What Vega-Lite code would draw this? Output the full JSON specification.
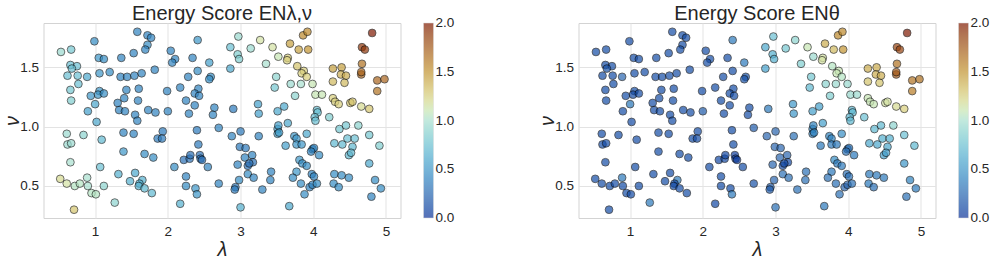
{
"$schema": "https://vega.github.io/schema/vega-lite/v6.json",
"background": "white",
"padding": {"left": 1.5, "top": 3, "right": 0, "bottom": 0},
"bounds": "flush",
"spacing": 178,
"config": {
  "font": "Liberation Sans",
  "view": {"stroke": "#d3d3d3", "strokeWidth": 1},
  "axis": {"labelFont": "Liberation Sans", "labelFontSize": 13.5, "labelColor": "#262626", "titleFont": "Liberation Sans", "titleFontSize": 20, "titleFontWeight": "normal", "titleFontStyle": "italic", "titleColor": "#262626", "grid": true, "gridColor": "#e3e3e3", "domain": false, "ticks": false},
  "axisX": {"labelPadding": 6, "titlePadding": 2},
  "axisY": {"labelPadding": 5, "titlePadding": -3},
  "legend": {"labelFont": "Liberation Sans", "labelFontSize": 13.5, "labelColor": "#262626", "gradientLength": 195, "gradientThickness": 10, "offset": 23, "labelOffset": 3, "gradientStrokeColor": "#cccccc", "gradientStrokeWidth": 0.5, "padding": 0, "labelOverlap": false, "gradientOpacity": 0.7},
  "title": {"font": "Liberation Sans", "fontSize": 20, "fontWeight": "normal", "color": "#262626", "anchor": "middle", "frame": "group", "offset": -1}
},
"datasets": {"pts": [
{"l":0.53,"n":1.63,"a":0.95,"b":0.12},{"l":0.67,"n":1.65,"a":0.8,"b":0.12},{"l":0.99,"n":1.72,"a":0.45,"b":0.12},{"l":0.66,"n":1.52,"a":0.75,"b":0.12},{"l":0.75,"n":1.51,"a":0.75,"b":0.12},{"l":0.68,"n":1.49,"a":0.75,"b":0.15},{"l":0.62,"n":1.43,"a":0.75,"b":0.12},{"l":0.76,"n":1.43,"a":0.75,"b":0.12},{"l":0.89,"n":1.42,"a":0.6,"b":0.25},{"l":0.77,"n":1.36,"a":0.75,"b":0.12},
{"l":0.66,"n":1.31,"a":0.8,"b":0.12},{"l":0.67,"n":1.22,"a":0.85,"b":0.12},{"l":1.06,"n":1.45,"a":0.5,"b":0.12},{"l":1.05,"n":1.58,"a":0.5,"b":0.12},{"l":1.12,"n":1.57,"a":0.45,"b":0.12},{"l":1.06,"n":1.30,"a":0.5,"b":0.12},{"l":1.04,"n":1.27,"a":0.5,"b":0.12},{"l":1.12,"n":1.28,"a":0.45,"b":0.12},{"l":0.94,"n":1.26,"a":0.5,"b":0.12},{"l":1.00,"n":1.19,"a":0.6,"b":0.35},
{"l":0.90,"n":1.13,"a":0.55,"b":0.12},{"l":1.02,"n":1.04,"a":0.6,"b":0.12},{"l":0.61,"n":0.94,"a":0.95,"b":0.12},{"l":0.84,"n":0.93,"a":0.9,"b":0.12},{"l":0.62,"n":0.85,"a":0.95,"b":0.12},{"l":0.67,"n":0.86,"a":0.95,"b":0.12},{"l":1.09,"n":0.89,"a":0.7,"b":0.12},{"l":0.66,"n":0.70,"a":1.0,"b":0.12},{"l":1.07,"n":0.66,"a":0.75,"b":0.12},{"l":0.52,"n":0.56,"a":1.2,"b":0.12},
{"l":0.61,"n":0.52,"a":1.15,"b":0.12},{"l":0.72,"n":0.50,"a":1.05,"b":0.12},{"l":0.79,"n":0.52,"a":1.05,"b":0.12},{"l":0.89,"n":0.57,"a":1.0,"b":0.35},{"l":0.90,"n":0.50,"a":1.0,"b":0.12},{"l":0.95,"n":0.44,"a":1.05,"b":0.12},{"l":1.01,"n":0.43,"a":1.05,"b":0.12},{"l":1.12,"n":0.50,"a":0.9,"b":0.12},{"l":0.71,"n":0.30,"a":1.3,"b":0.12},{"l":1.27,"n":0.36,"a":0.9,"b":0.35},
{"l":1.58,"n":1.80,"a":0.4,"b":0.12},{"l":1.72,"n":1.77,"a":0.4,"b":0.12},{"l":1.77,"n":1.75,"a":0.4,"b":0.12},{"l":1.72,"n":1.69,"a":0.45,"b":0.12},{"l":1.69,"n":1.65,"a":0.4,"b":0.12},{"l":1.53,"n":1.62,"a":0.4,"b":0.12},{"l":1.36,"n":1.58,"a":0.4,"b":0.12},{"l":2.04,"n":1.64,"a":0.4,"b":0.12},{"l":2.10,"n":1.57,"a":0.4,"b":0.12},{"l":2.06,"n":1.54,"a":0.4,"b":0.12},
{"l":2.34,"n":1.58,"a":0.4,"b":0.12},{"l":2.41,"n":1.73,"a":0.5,"b":0.35},{"l":2.57,"n":1.54,"a":0.55,"b":0.35},{"l":1.20,"n":1.46,"a":0.45,"b":0.12},{"l":1.35,"n":1.42,"a":0.4,"b":0.12},{"l":1.44,"n":1.42,"a":0.4,"b":0.12},{"l":1.54,"n":1.43,"a":0.4,"b":0.12},{"l":1.64,"n":1.45,"a":0.4,"b":0.12},{"l":1.82,"n":1.48,"a":0.4,"b":0.12},{"l":2.28,"n":1.42,"a":0.4,"b":0.12},
{"l":2.41,"n":1.47,"a":0.45,"b":0.12},{"l":2.59,"n":1.42,"a":0.45,"b":0.15},{"l":2.57,"n":1.40,"a":0.45,"b":0.15},{"l":1.43,"n":1.31,"a":0.4,"b":0.12},{"l":1.60,"n":1.32,"a":0.4,"b":0.12},{"l":1.40,"n":1.24,"a":0.4,"b":0.12},{"l":1.31,"n":1.20,"a":0.4,"b":0.12},{"l":1.59,"n":1.22,"a":0.4,"b":0.12},{"l":1.33,"n":1.14,"a":0.4,"b":0.12},{"l":1.41,"n":1.13,"a":0.4,"b":0.12},
{"l":1.55,"n":1.10,"a":0.4,"b":0.12},{"l":1.58,"n":1.05,"a":0.4,"b":0.12},{"l":1.73,"n":1.14,"a":0.4,"b":0.12},{"l":1.83,"n":1.12,"a":0.4,"b":0.12},{"l":1.99,"n":1.30,"a":0.4,"b":0.12},{"l":2.17,"n":1.33,"a":0.4,"b":0.12},{"l":2.42,"n":1.32,"a":0.4,"b":0.12},{"l":2.37,"n":1.28,"a":0.4,"b":0.12},{"l":2.43,"n":1.26,"a":0.4,"b":0.12},{"l":2.25,"n":1.22,"a":0.4,"b":0.12},
{"l":2.37,"n":1.18,"a":0.4,"b":0.12},{"l":2.64,"n":1.16,"a":0.4,"b":0.12},{"l":2.62,"n":1.10,"a":0.4,"b":0.12},{"l":2.29,"n":1.11,"a":0.4,"b":0.12},{"l":2.00,"n":1.13,"a":0.4,"b":0.2},{"l":1.39,"n":0.95,"a":0.4,"b":0.12},{"l":1.53,"n":0.94,"a":0.4,"b":0.12},{"l":1.93,"n":0.96,"a":0.35,"b":0.12},{"l":1.86,"n":0.90,"a":0.35,"b":0.12},{"l":1.92,"n":0.90,"a":0.35,"b":0.12},
{"l":1.39,"n":0.79,"a":0.5,"b":0.12},{"l":1.68,"n":0.77,"a":0.45,"b":0.12},{"l":1.80,"n":0.74,"a":0.45,"b":0.12},{"l":1.32,"n":0.60,"a":0.65,"b":0.12},{"l":1.55,"n":0.61,"a":0.6,"b":0.12},{"l":1.48,"n":0.54,"a":0.65,"b":0.12},{"l":1.65,"n":0.55,"a":0.65,"b":0.35},{"l":1.61,"n":0.52,"a":0.65,"b":0.12},{"l":1.60,"n":0.50,"a":0.65,"b":0.12},{"l":1.68,"n":0.48,"a":0.7,"b":0.12},
{"l":1.78,"n":0.44,"a":0.7,"b":0.12},{"l":2.17,"n":0.35,"a":0.65,"b":0.1},{"l":2.09,"n":0.66,"a":0.45,"b":0.12},{"l":2.25,"n":0.58,"a":0.4,"b":0.12},{"l":2.25,"n":0.50,"a":0.45,"b":0.12},{"l":2.38,"n":0.48,"a":0.5,"b":0.12},{"l":2.40,"n":0.43,"a":0.5,"b":0.35},{"l":2.22,"n":0.72,"a":0.3,"b":0.1},{"l":2.30,"n":0.73,"a":0.3,"b":0.1},{"l":2.31,"n":0.76,"a":0.3,"b":0.1},
{"l":2.44,"n":0.76,"a":0.3,"b":0.05},{"l":2.45,"n":0.73,"a":0.3,"b":0.05},{"l":2.47,"n":0.72,"a":0.3,"b":0.05},{"l":2.55,"n":0.66,"a":0.4,"b":0.12},{"l":2.42,"n":0.85,"a":0.35,"b":0.12},{"l":2.40,"n":0.97,"a":0.35,"b":0.12},{"l":2.70,"n":0.52,"a":0.4,"b":0.15},{"l":2.70,"n":0.99,"a":0.4,"b":0.2},
{"l":2.97,"n":1.76,"a":0.95,"b":0.75},{"l":2.86,"n":1.67,"a":0.75,"b":0.6},{"l":2.96,"n":1.61,"a":0.85,"b":0.65},{"l":2.98,"n":1.57,"a":0.85,"b":0.65},{"l":2.86,"n":1.49,"a":0.6,"b":0.55},{"l":3.14,"n":1.66,"a":0.95,"b":0.8},{"l":3.27,"n":1.73,"a":1.15,"b":0.9},{"l":3.44,"n":1.67,"a":1.15,"b":1.1},{"l":3.52,"n":1.59,"a":1.1,"b":0.95},{"l":3.35,"n":1.53,"a":1.0,"b":0.85},
{"l":3.65,"n":1.58,"a":1.25,"b":1.15},{"l":3.64,"n":1.56,"a":1.25,"b":1.15},{"l":3.68,"n":1.70,"a":1.45,"b":1.4},{"l":3.80,"n":1.65,"a":1.45,"b":1.35},{"l":3.86,"n":1.77,"a":1.55,"b":1.55},{"l":3.92,"n":1.80,"a":1.55,"b":1.55},{"l":3.93,"n":1.65,"a":1.5,"b":1.5},{"l":3.78,"n":1.51,"a":1.3,"b":1.05},{"l":3.87,"n":1.47,"a":1.25,"b":1.1},{"l":3.84,"n":1.45,"a":1.25,"b":1.1},
{"l":3.91,"n":1.42,"a":1.25,"b":1.05},{"l":3.49,"n":1.42,"a":0.9,"b":0.8},{"l":3.47,"n":1.33,"a":0.8,"b":0.7},{"l":3.69,"n":1.36,"a":0.95,"b":0.9},{"l":3.83,"n":1.36,"a":1.0,"b":0.95},{"l":3.99,"n":1.36,"a":1.1,"b":0.95},{"l":3.75,"n":1.26,"a":0.9,"b":0.85},{"l":4.03,"n":1.27,"a":1.1,"b":0.95},{"l":4.12,"n":1.27,"a":1.1,"b":0.95},{"l":4.27,"n":1.49,"a":1.45,"b":1.4},
{"l":4.39,"n":1.50,"a":1.45,"b":1.4},{"l":4.38,"n":1.44,"a":1.4,"b":1.4},{"l":4.45,"n":1.43,"a":1.4,"b":1.4},{"l":4.27,"n":1.38,"a":1.35,"b":1.3},{"l":4.43,"n":1.37,"a":1.35,"b":1.3},{"l":4.27,"n":1.24,"a":1.25,"b":1.1},{"l":4.30,"n":1.21,"a":1.25,"b":1.1},{"l":4.35,"n":1.19,"a":1.25,"b":1.1},{"l":4.51,"n":1.20,"a":1.3,"b":1.15},{"l":4.54,"n":1.21,"a":1.3,"b":1.15},
{"l":4.66,"n":1.17,"a":1.2,"b":1.2},{"l":4.77,"n":1.15,"a":1.3,"b":1.25},{"l":4.67,"n":1.53,"a":1.65,"b":1.65},{"l":4.66,"n":1.44,"a":1.7,"b":1.75},{"l":4.66,"n":1.46,"a":1.7,"b":1.75},{"l":4.67,"n":1.67,"a":1.9,"b":1.85},{"l":4.71,"n":1.65,"a":1.9,"b":1.85},{"l":4.81,"n":1.79,"a":2.0,"b":2.0},{"l":4.88,"n":1.39,"a":1.7,"b":1.65},{"l":4.98,"n":1.40,"a":1.7,"b":1.65},
{"l":4.88,"n":1.30,"a":1.65,"b":1.6},{"l":2.90,"n":1.15,"a":0.35,"b":0.35},{"l":3.24,"n":1.19,"a":0.55,"b":0.5},{"l":3.25,"n":1.11,"a":0.55,"b":0.5},{"l":3.51,"n":1.13,"a":0.6,"b":0.55},{"l":3.60,"n":1.17,"a":0.6,"b":0.55},{"l":4.05,"n":1.14,"a":0.75,"b":0.7},{"l":4.06,"n":1.12,"a":0.75,"b":0.7},{"l":4.22,"n":1.08,"a":0.85,"b":0.75},{"l":3.65,"n":1.03,"a":0.6,"b":0.55},
{"l":3.51,"n":0.98,"a":0.55,"b":0.4},{"l":3.52,"n":1.01,"a":0.55,"b":0.4},{"l":3.51,"n":0.94,"a":0.55,"b":0.4},{"l":3.53,"n":0.95,"a":0.55,"b":0.4},{"l":4.02,"n":1.08,"a":0.75,"b":0.7},{"l":4.03,"n":1.05,"a":0.75,"b":0.7},{"l":3.00,"n":0.96,"a":0.35,"b":0.25},{"l":2.88,"n":0.92,"a":0.4,"b":0.25},{"l":3.25,"n":0.92,"a":0.4,"b":0.3},{"l":2.99,"n":0.83,"a":0.35,"b":0.25},
{"l":3.07,"n":0.82,"a":0.35,"b":0.25},{"l":3.16,"n":0.76,"a":0.4,"b":0.25},{"l":3.06,"n":0.74,"a":0.4,"b":0.25},{"l":3.17,"n":0.70,"a":0.3,"b":0.1},{"l":3.10,"n":0.67,"a":0.3,"b":0.1},{"l":3.12,"n":0.69,"a":0.3,"b":0.1},{"l":2.96,"n":0.68,"a":0.4,"b":0.25},{"l":3.10,"n":0.60,"a":0.45,"b":0.3},{"l":3.18,"n":0.57,"a":0.4,"b":0.3},{"l":2.98,"n":0.55,"a":0.45,"b":0.25},
{"l":2.93,"n":0.49,"a":0.35,"b":0.2},{"l":2.92,"n":0.47,"a":0.35,"b":0.2},{"l":3.30,"n":0.47,"a":0.4,"b":0.3},{"l":3.00,"n":0.32,"a":0.65,"b":0.3},{"l":3.42,"n":0.62,"a":0.4,"b":0.3},{"l":3.41,"n":0.55,"a":0.4,"b":0.3},{"l":3.62,"n":0.84,"a":0.55,"b":0.35},{"l":3.74,"n":0.92,"a":0.5,"b":0.4},{"l":3.77,"n":0.90,"a":0.5,"b":0.4},{"l":3.77,"n":0.85,"a":0.5,"b":0.35},
{"l":3.84,"n":0.85,"a":0.5,"b":0.35},{"l":3.91,"n":0.94,"a":0.6,"b":0.45},{"l":3.99,"n":0.81,"a":0.4,"b":0.3},{"l":4.01,"n":0.82,"a":0.4,"b":0.3},{"l":3.97,"n":0.79,"a":0.4,"b":0.3},{"l":4.08,"n":0.76,"a":0.45,"b":0.35},{"l":3.81,"n":0.72,"a":0.5,"b":0.45},{"l":3.85,"n":0.69,"a":0.45,"b":0.35},{"l":3.91,"n":0.67,"a":0.45,"b":0.35},{"l":3.77,"n":0.62,"a":0.5,"b":0.35},
{"l":3.72,"n":0.57,"a":0.45,"b":0.3},{"l":3.83,"n":0.52,"a":0.45,"b":0.3},{"l":3.67,"n":0.33,"a":0.6,"b":0.35},{"l":3.88,"n":0.43,"a":0.45,"b":0.3},{"l":3.98,"n":0.60,"a":0.4,"b":0.3},{"l":4.01,"n":0.58,"a":0.4,"b":0.3},{"l":3.95,"n":0.49,"a":0.4,"b":0.25},{"l":3.99,"n":0.51,"a":0.4,"b":0.25},{"l":4.05,"n":0.52,"a":0.45,"b":0.3},{"l":4.29,"n":0.86,"a":0.7,"b":0.6},
{"l":4.40,"n":0.85,"a":0.7,"b":0.6},{"l":4.36,"n":0.98,"a":0.8,"b":0.7},{"l":4.45,"n":1.01,"a":0.8,"b":0.7},{"l":4.62,"n":1.01,"a":0.9,"b":0.9},{"l":4.47,"n":0.90,"a":0.75,"b":0.65},{"l":4.57,"n":0.90,"a":0.75,"b":0.65},{"l":4.54,"n":0.83,"a":0.7,"b":0.6},{"l":4.49,"n":0.76,"a":0.7,"b":0.55},{"l":4.52,"n":0.78,"a":0.7,"b":0.55},{"l":4.77,"n":0.93,"a":0.8,"b":0.75},
{"l":4.91,"n":0.84,"a":0.85,"b":0.7},{"l":4.77,"n":0.69,"a":0.6,"b":0.5},{"l":4.29,"n":0.60,"a":0.45,"b":0.35},{"l":4.39,"n":0.59,"a":0.45,"b":0.35},{"l":4.49,"n":0.57,"a":0.45,"b":0.35},{"l":4.28,"n":0.52,"a":0.45,"b":0.35},{"l":4.35,"n":0.49,"a":0.45,"b":0.3},{"l":4.85,"n":0.55,"a":0.45,"b":0.4},{"l":4.93,"n":0.48,"a":0.45,"b":0.35},{"l":4.80,"n":0.41,"a":0.4,"b":0.3}
]},
"resolve": {"scale": {"color": "independent"}, "legend": {"color": "independent"}},
"hconcat": [
 {
  "width": 357, "height": 195,
  "title": "Energy Score ENλ,ν",
  "data": {"name": "pts"},
  "mark": {"type": "circle", "size": 60, "opacity": 0.7, "stroke": "#000000", "strokeWidth": 0.8},
  "encoding": {
    "x": {"field": "l", "type": "quantitative", "scale": {"domain": [0.29, 5.2], "nice": false, "zero": false}, "axis": {"values": [1,2,3,4,5], "format": "d", "title": "λ"}},
    "y": {"field": "n", "type": "quantitative", "scale": {"domain": [0.23, 1.874], "nice": false, "zero": false}, "axis": {"values": [0.5,1.0,1.5], "format": ".1f", "title": "ν"}},
    "color": {"field": "a", "type": "quantitative", "scale": {"domain": [0,0.25,0.5,0.75,1.0,1.125,1.25,1.5,1.75,2.0], "range": ["#0f3399","#2a66b0","#3d96c8","#6ac0d3","#a9e0d0","#d4e6ad","#d9d07c","#c29430","#a35a1a","#801a02"]}, "legend": {"title": null, "values": [0,0.5,1,1.5,2], "format": ".1f", "encode": {"labels": {"update": {"baseline": {"value": "middle"}}}}}}
  }
 },
 {
  "width": 357, "height": 195,
  "title": "Energy Score ENθ",
  "data": {"name": "pts"},
  "mark": {"type": "circle", "size": 60, "opacity": 0.7, "stroke": "#000000", "strokeWidth": 0.8},
  "encoding": {
    "x": {"field": "l", "type": "quantitative", "scale": {"domain": [0.29, 5.2], "nice": false, "zero": false}, "axis": {"values": [1,2,3,4,5], "format": "d", "title": "λ"}},
    "y": {"field": "n", "type": "quantitative", "scale": {"domain": [0.23, 1.874], "nice": false, "zero": false}, "axis": {"values": [0.5,1.0,1.5], "format": ".1f", "title": "ν"}},
    "color": {"field": "b", "type": "quantitative", "scale": {"domain": [0,0.25,0.5,0.75,1.0,1.125,1.25,1.5,1.75,2.0], "range": ["#0f3399","#2a66b0","#3d96c8","#6ac0d3","#a9e0d0","#d4e6ad","#d9d07c","#c29430","#a35a1a","#801a02"]}, "legend": {"title": null, "values": [0,0.5,1,1.5,2], "format": ".1f", "encode": {"labels": {"update": {"baseline": {"value": "middle"}}}}}}
  }
 }
]
}
